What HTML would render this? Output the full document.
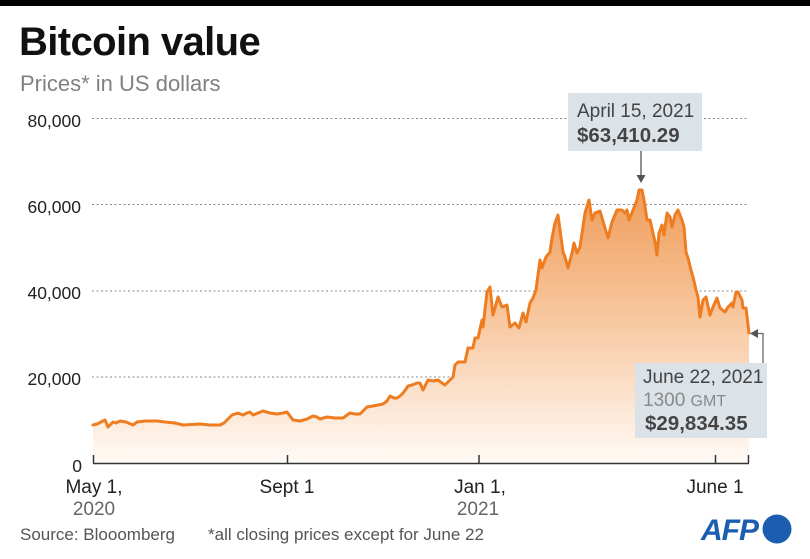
<!DOCTYPE html>
<html>
<head>
<meta charset="utf-8">
<style>
html,body{margin:0;padding:0;background:#fff;}
svg{display:block;}
text{font-family:"Liberation Sans",sans-serif;}
</style>
</head>
<body>
<svg width="810" height="559" viewBox="0 0 810 559" xmlns="http://www.w3.org/2000/svg">
<defs>
<linearGradient id="g" gradientUnits="userSpaceOnUse" x1="0" y1="185" x2="0" y2="463">
<stop offset="0" stop-color="#ef9b58"/>
<stop offset="0.5" stop-color="#f8c9a2"/>
<stop offset="1" stop-color="#fffaf6"/>
</linearGradient>
</defs>
<rect x="0" y="0" width="810" height="6" fill="#000"/>
<text x="19" y="55" font-size="40" font-weight="bold" fill="#111" letter-spacing="-0.6">Bitcoin value</text>
<text x="20" y="91" font-size="22" fill="#808080">Prices* in US dollars</text>

<g stroke="#8a8a8a" stroke-width="1" stroke-dasharray="2 2.5">
<line x1="92" y1="118.5" x2="748" y2="118.5"/>
<line x1="92" y1="204.5" x2="748" y2="204.5"/>
<line x1="92" y1="291" x2="748" y2="291"/>
<line x1="92" y1="377" x2="748" y2="377"/>
</g>
<g font-size="17.5" fill="#222" text-anchor="end">
<text x="81" y="127">80,000</text>
<text x="81" y="213">60,000</text>
<text x="81" y="299">40,000</text>
<text x="81" y="385">20,000</text>
<text x="82" y="472">0</text>
</g>

<path fill="url(#g)" d="M93,425 L97,424 L101,422 L105,420 L108,427 L113,422 L116,423 L120,421 L126,422 L133,425 L137,422 L145,421 L157,421 L165,422 L175,423 L183,425 L200,424 L210,425 L220,425 L224,423 L227,420 L232,415 L238,413 L243,415 L247,413 L250,412 L253,415 L258,413 L263,411 L270,413 L277,414 L283,413 L287,412 L290,416 L293,420 L300,421 L307,419 L313,416 L317,417 L320,419 L327,417 L335,418 L343,418 L350,413 L355,414 L360,414 L364,410 L367,407 L373,406 L378,405 L383,404 L387,401 L390,396 L394,398 L397,398 L400,396 L403,393 L406,389 L408,386 L412,385 L417,383 L420,383 L423,390 L426,384 L428,380 L433,381 L438,380 L442,383 L445,385 L450,380 L453,377 L455,365 L458,362 L465,362 L468,348 L473,348 L475,338 L478,338 L482,320 L483,327 L487,292 L490,287 L493,315 L498,297 L502,307 L507,305 L510,327 L515,323 L519,328 L523,313 L526,322 L530,303 L533,298 L536,290 L540,260 L542,268 L546,257 L550,252 L552,238 L555,223 L558,215 L563,252 L565,257 L568,268 L572,253 L574,243 L577,253 L580,247 L585,213 L589,200 L592,220 L595,213 L600,211 L605,228 L608,238 L612,222 L617,210 L622,210 L625,213 L627,210 L629,220 L633,210 L637,200 L639,190 L642,190 L644,200 L647,220 L650,220 L655,242 L657,255 L659,233 L662,225 L664,235 L667,213 L670,217 L672,227 L675,215 L678,210 L682,220 L684,227 L686,252 L688,258 L691,270 L693,277 L696,290 L698,297 L700,317 L703,300 L706,297 L710,315 L713,307 L717,298 L720,308 L725,312 L728,307 L732,303 L733,307 L736,292 L738,292 L742,300 L743,308 L746,308 L749,333 L749,463 L93,463 Z"/>
<path fill="none" stroke="#ee7d21" stroke-width="3" stroke-linejoin="round" stroke-linecap="round" d="M93,425 L97,424 L101,422 L105,420 L108,427 L113,422 L116,423 L120,421 L126,422 L133,425 L137,422 L145,421 L157,421 L165,422 L175,423 L183,425 L200,424 L210,425 L220,425 L224,423 L227,420 L232,415 L238,413 L243,415 L247,413 L250,412 L253,415 L258,413 L263,411 L270,413 L277,414 L283,413 L287,412 L290,416 L293,420 L300,421 L307,419 L313,416 L317,417 L320,419 L327,417 L335,418 L343,418 L350,413 L355,414 L360,414 L364,410 L367,407 L373,406 L378,405 L383,404 L387,401 L390,396 L394,398 L397,398 L400,396 L403,393 L406,389 L408,386 L412,385 L417,383 L420,383 L423,390 L426,384 L428,380 L433,381 L438,380 L442,383 L445,385 L450,380 L453,377 L455,365 L458,362 L465,362 L468,348 L473,348 L475,338 L478,338 L482,320 L483,327 L487,292 L490,287 L493,315 L498,297 L502,307 L507,305 L510,327 L515,323 L519,328 L523,313 L526,322 L530,303 L533,298 L536,290 L540,260 L542,268 L546,257 L550,252 L552,238 L555,223 L558,215 L563,252 L565,257 L568,268 L572,253 L574,243 L577,253 L580,247 L585,213 L589,200 L592,220 L595,213 L600,211 L605,228 L608,238 L612,222 L617,210 L622,210 L625,213 L627,210 L629,220 L633,210 L637,200 L639,190 L642,190 L644,200 L647,220 L650,220 L655,242 L657,255 L659,233 L662,225 L664,235 L667,213 L670,217 L672,227 L675,215 L678,210 L682,220 L684,227 L686,252 L688,258 L691,270 L693,277 L696,290 L698,297 L700,317 L703,300 L706,297 L710,315 L713,307 L717,298 L720,308 L725,312 L728,307 L732,303 L733,307 L736,292 L738,292 L742,300 L743,308 L746,308 L749,333"/>

<g stroke="#333" stroke-width="1.5" fill="none">
<line x1="93" y1="463.5" x2="749" y2="463.5"/>
<line x1="93.5" y1="455" x2="93.5" y2="463"/>
<line x1="287.5" y1="455" x2="287.5" y2="463"/>
<line x1="479" y1="455" x2="479" y2="463"/>
<line x1="715.5" y1="455" x2="715.5" y2="463"/>
<line x1="748.5" y1="455" x2="748.5" y2="463"/>
</g>
<g font-size="19" text-anchor="middle">
<text x="94" y="493" fill="#222">May 1,</text>
<text x="94" y="515" fill="#666">2020</text>
<text x="287" y="493" fill="#222">Sept 1</text>
<text x="480" y="493" fill="#222">Jan 1,</text>
<text x="478" y="515" fill="#666">2021</text>
<text x="715" y="493" fill="#222">June 1</text>
</g>
<text x="20" y="540" font-size="17" fill="#555">Source: Blooomberg</text>
<text x="208" y="540" font-size="17" fill="#555">*all closing prices except for June 22</text>

<!-- annotation 1 -->
<rect x="568" y="93" width="134" height="58" fill="#dce3e8"/>
<text x="577" y="117" font-size="19" fill="#444">April 15, 2021</text>
<text x="577" y="142" font-size="20.5" font-weight="bold" fill="#444">$63,410.29</text>
<line x1="641" y1="151" x2="641" y2="176" stroke="#555" stroke-width="1.3"/>
<polygon points="636.5,175 645.5,175 641,183" fill="#555"/>

<!-- annotation 2 -->
<polyline points="763,363 763,333.5 756,333.5" fill="none" stroke="#666" stroke-width="1.3"/>
<polygon points="750,333.5 758,329 758,338" fill="#555"/>
<rect x="635" y="363" width="132" height="75" fill="#dce3e8"/>
<text x="643" y="383" font-size="19" fill="#444">June 22, 2021</text>
<text x="643" y="406" font-size="19" fill="#8a8a8a">1300 <tspan font-size="16">GMT</tspan></text>
<text x="645" y="430" font-size="20.5" font-weight="bold" fill="#444">$29,834.35</text>

<!-- AFP logo -->
<text x="701" y="540" font-size="30" font-weight="bold" font-style="italic" fill="#1b5eb0" letter-spacing="-1">AFP</text>
<circle cx="777" cy="529" r="14.5" fill="#1b5eb0"/>
</svg>
</body>
</html>
